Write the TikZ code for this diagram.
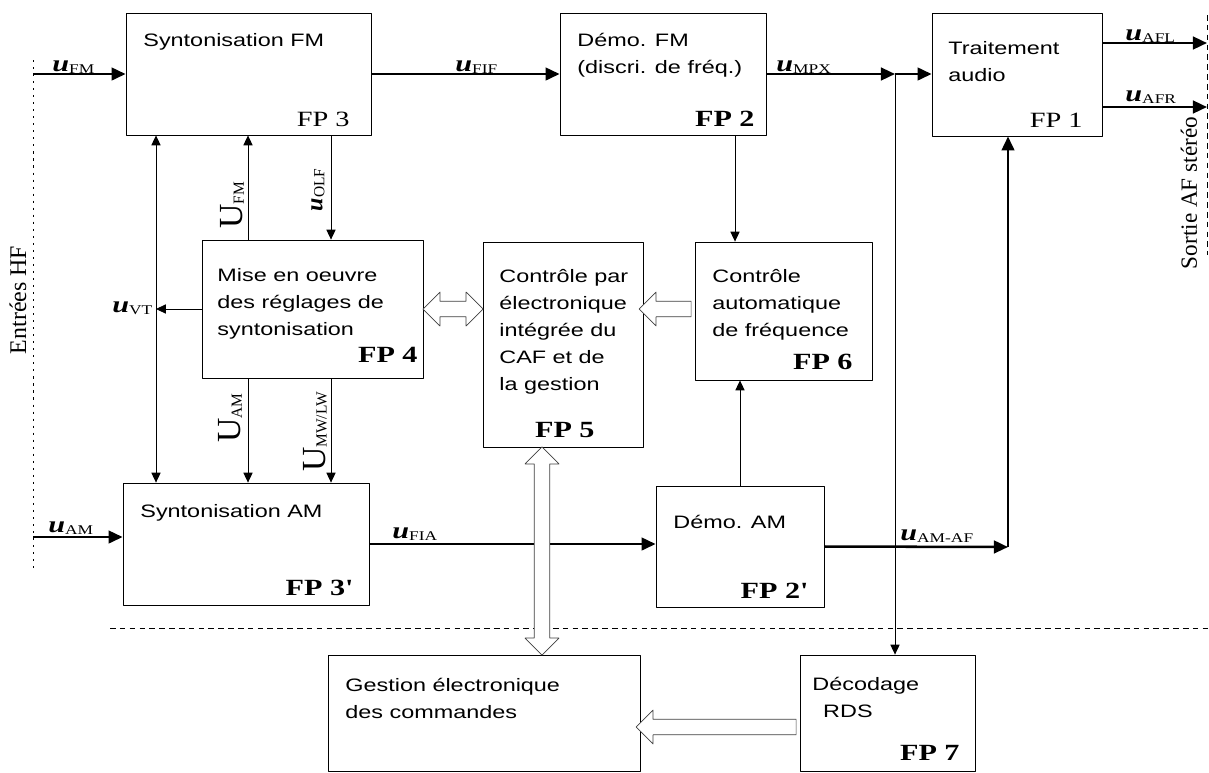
\documentclass[tikz,border=0pt]{standalone}
\usepackage{fontspec}
\setmainfont[FakeStretch=1.3]{Liberation Serif}
\setsansfont[FakeStretch=1.3]{Liberation Sans}
\newfontfamily\rotfont{Liberation Serif}
\usetikzlibrary{arrows.meta,calc,fit,shapes.arrows}
\newcommand{\usig}[2][9.5]{\textbf{\textit{u}}\raisebox{-1.5pt}{\fontsize{#1}{#1}\selectfont #2}}
\newcommand{\Usig}[1]{U\raisebox{-1pt}{\fontsize{11}{11}\selectfont #1}}
\tikzset{
  every picture/.style={line width=0.6pt, line join=round},
  % Blocs
  blk/.style={draw, inner sep=0pt, line width=0.6pt},
  % ancre sur la ligne de base de la derniere ligne
  txt/.style={font=\sffamily\fontsize{12.8}{19.2}\selectfont, align=left, anchor=base west, inner sep=0pt},
  fpl/.style={font=\fontsize{15.5}{18}\selectfont, anchor=base east, inner sep=0pt},
  fpb/.style={fpl, font=\bfseries\fontsize{16.5}{18}\selectfont},
  % Signaux
  sig/.style={font=\fontsize{16.5}{18}\selectfont, anchor=base west, inner sep=0pt},
  rsig/.style={font=\rotfont\fontsize{24}{26}\selectfont, rotate=90, inner sep=0pt},
  side/.style={font=\rotfont\fontsize{16.5}{18}\selectfont, rotate=90, inner sep=0pt},
  thk/.style={line width=1.8pt, -{Triangle[length=10pt,width=9pt]}},
  thn/.style={line width=0.6pt, -{Triangle[length=7pt,width=6.5pt]}},
  thnb/.style={line width=0.6pt, {Triangle[length=7pt,width=6.5pt]}-{Triangle[length=7pt,width=6.5pt]}},
  % Liaisons de commande (fleches creuses)
  hollow/.style={draw=black!75, fill=white, line width=0.5pt, inner xsep=0pt, inner ysep=5.3pt,
    single arrow head extend=6.5pt, double arrow head extend=6.5pt},
  frontier/.style={line width=0.5pt, dash pattern=on 4pt off 3pt},
}
\begin{document}
\begin{tikzpicture}[x=0.025cm, y=-0.025cm]
  \useasboundingbox (0,0) rectangle (1209,772);
  % limites
  \draw[frontier, dash pattern=on 1.5pt off 3.5pt] (33,60) -- (33,573);
  \draw[frontier] (1207,15) -- (1207,255);
  \draw[frontier] (110,628) -- (1209,628);
  \node[side, font=\rotfont\fontsize{17}{18}\selectfont] (lin) at (18,300) {Entrées HF};
  \node[side] (lout) at (1189,193) {Sortie AF stéréo};
  % blocs fonctionnels
  \node[blk, fit={(126,13) (371,135)}] (fp3) {};
  \node[blk, fit={(560,13) (766,135)}] (fp2) {};
  \node[blk, fit={(932,13) (1102,136)}] (fp1) {};
  \node[blk, fit={(202,240) (423,378)}] (fp4) {};
  \node[blk, fit={(483,242) (643,447)}] (fp5) {};
  \node[blk, fit={(695,242) (872,380)}] (fp6) {};
  \node[blk, fit={(123,483) (369,605)}] (fp3b) {};
  \node[blk, fit={(656,486) (824,607)}] (fp2b) {};
  \node[blk, fit={(328,655) (640,771)}] (gest) {};
  \node[blk, fit={(800,655) (975,771)}] (fp7) {};
  % textes des blocs
  \node[txt] at (143,46) {Syntonisation FM};
  \node[txt] at (577,73) {Démo. FM\\(discri. de fréq.)};
  \node[txt] at (948,81) {Traitement\\audio};
  \node[txt] at (217,335) {Mise en oeuvre\\des réglages de\\syntonisation};
  \node[txt] at (499,390) {Contrôle par\\électronique\\intégrée du\\CAF et de\\la gestion};
  \node[txt] at (712,336) {Contrôle\\automatique\\de fréquence};
  \node[txt] at (140,517) {Syntonisation AM};
  \node[txt] at (673,528) {Démo. AM};
  \node[txt] at (345,718) {Gestion électronique\\des commandes};
  \node[txt] at (812,717) {Décodage\\\hspace*{0.6em}RDS};
  \node[fpl] at (350,126) {FP 3};
  \node[fpb] at (755,126) {FP 2};
  \node[fpl] at (1083,127) {FP 1};
  \node[fpb] at (418,362) {FP 4};
  \node[fpb] at (595,437) {FP 5};
  \node[fpb] at (853,369) {FP 6};
  \node[fpb] at (352,595) {FP 3\textquotesingle};
  \node[fpb] at (807,598) {FP 2\textquotesingle};
  \node[fpb] at (960,760) {FP 7};
  % points de passage
  \coordinate (inFM) at (33,74);
  \coordinate (inAM) at (33,537);
  \coordinate (jn) at (895,74);
  \coordinate (jaf) at (1008,547);
  \coordinate (outL) at (1207,43);
  \coordinate (outR) at (1207,107);
  \coordinate (xa) at (156,0);
  \coordinate (xb) at (248,0);
  \coordinate (xc) at (331,0);
  \coordinate (xd) at (735,0);
  \coordinate (xe) at (740,0);
  % chaine du signal
  \draw[thk] (inFM) -- (fp3.west |- inFM);
  \draw[thk] (fp3.east) -- (fp2.west);
  \draw[thk] (fp2.east) -- (jn);
  \draw[thk] (jn) -- (fp1.west |- jn);
  \draw[thk] (fp1.east |- outL) -- (outL);
  \draw[thk] (fp1.east |- outR) -- (outR);
  \draw[thk] (inAM) -- (fp3b.west |- inAM);
  \draw[thk] (fp3b.east) -- (fp2b.west |- fp3b.east);
  \draw[thk] (fp2b.east) -- (jaf);
  \draw[thk] (jaf) -- (jaf |- fp1.south);
  % commandes
  \draw[thn] (jn) -- (jn |- fp7.north);
  \draw[thnb] (fp3.south -| xa) -- (fp3b.north -| xa);
  \draw[thn] (fp4.north -| xb) -- (fp3.south -| xb);
  \draw[thn] (fp3.south -| xc) -- (fp4.north -| xc);
  \draw[thn] (fp4.west) -- (xa |- fp4.west);
  \draw[thn] (fp4.south -| xb) -- (fp3b.north -| xb);
  \draw[thn] (fp4.south -| xc) -- (fp3b.north -| xc);
  \draw[thn] (fp2.south -| xd) -- (fp6.north -| xd);
  \draw[thn] (fp2b.north -| xe) -- (fp6.south -| xe);
  % fleches creuses
  \node[hollow, double arrow, minimum height=1.5cm] (h45) at ($(fp4.east)!0.5!(fp5.west |- fp4.east)$) {};
  \node[hollow, single arrow, rotate=180, minimum height=1.3cm] (h65) at ($(fp5.east |- fp4.east)!0.5!(fp6.west |- fp4.east)$) {};
  \node[hollow, double arrow, rotate=90, minimum height=5.2cm] (h57) at (542,551) {};
  \node[hollow, single arrow, rotate=180, minimum height=4cm] (h75) at (720,727) {};
  % etiquettes des signaux
  \node[sig] (lFM) at (52,71) {\usig{FM}};
  \node[sig] (lFIF) at (455,71) {\usig{FIF}};
  \node[sig] (lMPX) at (776,71) {\usig{MPX}};
  \node[sig] (lAFL) at (1125,40) {\usig{AFL}};
  \node[sig] (lAFR) at (1125,101) {\usig{AFR}};
  \node[sig] (lVT) at (112,312) {\usig{VT}};
  \node[sig] (lAM) at (48,532) {\usig{AM}};
  \node[sig] (lFIA) at (392,538) {\usig{FIA}};
  \node[sig] (lAMAF) at (900,540) {\usig{AM-AF}};
  \node[rsig] (lUFM) at (232,205) {\Usig{FM}};
  \node[rsig, font=\rotfont\fontsize{17}{18}\selectfont] (lOLF) at (318,190) {\usig[11]{OLF}};
  \node[rsig] (lUAM) at (230,418) {\Usig{AM}};
  \node[rsig] (lUMW) at (315,432) {\Usig{MW/LW}};
\end{tikzpicture}
\end{document}
